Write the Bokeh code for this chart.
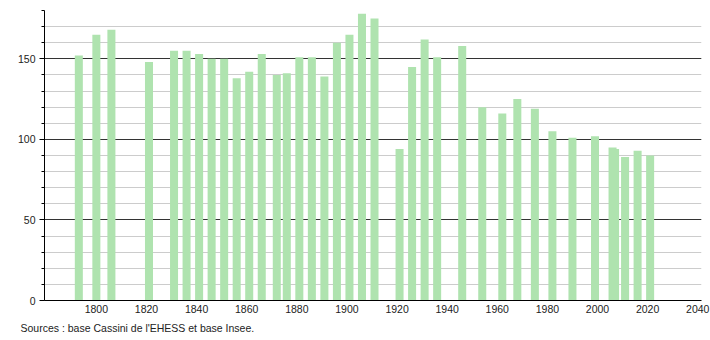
from bokeh.plotting import figure
from bokeh.models import FixedTicker, Range1d, Title
from bokeh.embed import file_html
from bokeh.resources import INLINE

years = [1793, 1800, 1806, 1821, 1831, 1836, 1841, 1846, 1851, 1856, 1861, 1866,
         1872, 1876, 1881, 1886, 1891, 1896, 1901, 1906, 1911, 1921, 1926, 1931,
         1936, 1946, 1954, 1962, 1968, 1975, 1982, 1990, 1999, 2006, 2007, 2011,
         2016, 2021]
population = [152, 165, 168, 148, 155, 155, 153, 150, 150, 138, 142, 153,
              140, 141, 151, 151, 139, 160, 165, 178, 175, 94, 145, 162,
              151, 158, 120, 116, 125, 119, 105, 101, 102, 95, 94, 89,
              93, 90]
x_ticks = [1800, 1820, 1840, 1860, 1880, 1900, 1920, 1940, 1960, 1980, 2000, 2020, 2040]
y_ticks = [0, 50, 100, 150]
y_minor = list(range(0, 181, 10))
source_text = "Sources : base Cassini de l'EHESS et base Insee."

FONT = "Liberation Sans"

p = figure(width=710, height=340, output_backend="svg", toolbar_location=None,
           x_range=Range1d(1779.3, 2041.5), y_range=Range1d(0, 180),
           min_border_left=44, min_border_right=9, min_border_top=10,
           min_border_bottom=40)
p.outline_line_color = None
p.background_fill_color = "white"
p.border_fill_color = "white"

# grid
p.xgrid.grid_line_color = None
p.ygrid.grid_line_color = "#333333"
p.ygrid.grid_line_width = 1
p.ygrid.minor_grid_line_color = "#cccccc"
p.ygrid.minor_grid_line_width = 1

p.vbar(x=years, top=population, width=3.2, bottom=0,
       fill_color="#afe3af", line_color=None)

# axes
p.yaxis.ticker = FixedTicker(ticks=y_ticks, minor_ticks=y_minor)
p.xaxis.ticker = FixedTicker(ticks=x_ticks)
for ax in (p.xaxis[0], p.yaxis[0]):
    ax.axis_line_color = "black"
    ax.axis_line_width = 1
    ax.major_label_text_font = FONT
    ax.major_label_text_font_size = "10.5px"
    ax.major_label_text_color = "#222222"
    ax.major_tick_line_color = "black"
p.yaxis.major_tick_out = 5
p.yaxis.major_tick_in = 0
p.yaxis.minor_tick_out = 3
p.yaxis.minor_tick_in = 0
p.yaxis.minor_tick_line_color = "black"
p.yaxis.major_label_standoff = 4
p.xaxis.major_tick_out = 0
p.xaxis.major_tick_in = 0
p.xaxis.minor_tick_line_color = None
p.xaxis.major_label_standoff = 4

src = Title(text=source_text, align="left", offset=-24, text_font=FONT,
            text_font_size="10.5px", text_font_style="normal",
            text_color="#222222", standoff=8)
p.add_layout(src, "below")

open("out.html", "w").write(file_html(p, INLINE))
